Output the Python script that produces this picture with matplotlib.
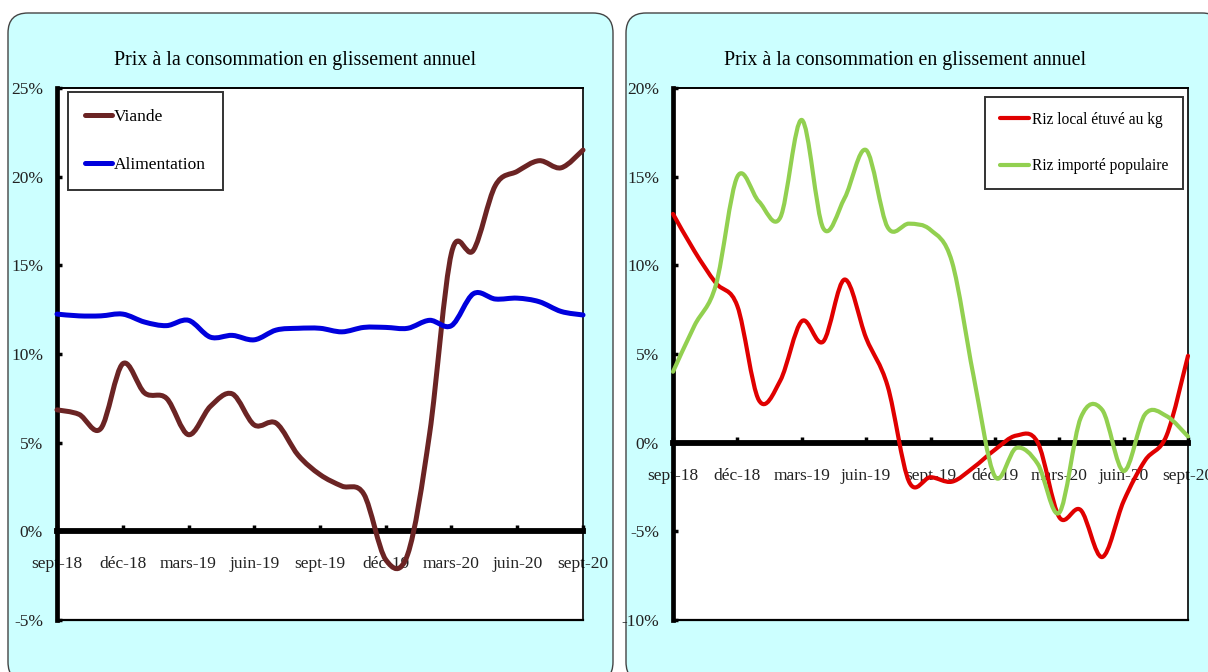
import matplotlib
matplotlib.use("Agg")
import matplotlib.pyplot as plt
from matplotlib.path import Path
from matplotlib.patches import PathPatch, FancyBboxPatch
from matplotlib.lines import Line2D

# ---------------- data ----------------
month_labels = ["sept-18", "oct-18", "nov-18", "déc-18", "janv-19", "févr-19", "mars-19",
                "avr-19", "mai-19", "juin-19", "juil-19", "août-19", "sept-19", "oct-19",
                "nov-19", "déc-19", "janv-20", "févr-20", "mars-20", "avr-20", "mai-20",
                "juin-20", "juil-20", "août-20", "sept-20"]
tick_labels = ["sept-18", "déc-18", "mars-19", "juin-19", "sept-19", "déc-19",
               "mars-20", "juin-20", "sept-20"]

viande = [6.85, 6.6, 5.8, 9.45, 7.8, 7.5, 5.45, 7.05, 7.75, 6.0, 6.1, 4.3, 3.2,
          2.55, 2.1, -1.6, -1.3, 5.5, 15.7, 15.85, 19.5, 20.3, 20.9, 20.5, 21.5]
alimentation = [12.25, 12.15, 12.15, 12.25, 11.8, 11.6, 11.9, 10.95, 11.05, 10.8, 11.35,
                11.45, 11.45, 11.25, 11.5, 11.5, 11.45, 11.9, 11.6, 13.4, 13.1, 13.15,
                12.95, 12.4, 12.2]
riz_local = [12.9, 10.8, 9.0, 7.7, 2.4, 3.5, 6.85, 5.7, 9.2, 5.9, 3.2, -2.2, -1.95,
             -2.2, -1.4, -0.4, 0.4, 0.0, -4.2, -3.8, -6.45, -3.3, -1.0, 0.4, 4.9]
riz_importe = [4.0, 6.6, 8.9, 15.0, 13.6, 12.7, 18.2, 12.1, 13.8, 16.5, 12.15, 12.35,
               12.0, 10.2, 3.8, -1.9, -0.3, -1.2, -3.95, 1.4, 1.85, -1.6, 1.6, 1.5, 0.35]

title_text = "Prix à la consommation en glissement annuel"

# ---------------- helpers ----------------
FONT = "Liberation Serif"
plt.rcParams["font.family"] = [FONT, "DejaVu Serif"]


def smooth_path(xs, ys):
    """Excel-like smoothed line as cubic Bezier path through the points."""
    n = len(xs)
    verts = [(xs[0], ys[0])]
    codes = [Path.MOVETO]
    for i in range(n - 1):
        a = i - 1 if i > 0 else i
        d = i + 2 if i + 2 < n else i + 1
        c1 = (xs[i] + (xs[i + 1] - xs[a]) / 6.0, ys[i] + (ys[i + 1] - ys[a]) / 6.0)
        c2 = (xs[i + 1] - (xs[d] - xs[i]) / 6.0, ys[i + 1] - (ys[d] - ys[i]) / 6.0)
        verts += [c1, c2, (xs[i + 1], ys[i + 1])]
        codes += [Path.CURVE4] * 3
    return Path(verts, codes)


W, H = 1208, 672
fig = plt.figure(figsize=(W / 100, H / 100), dpi=100)
fig.patch.set_facecolor("white")

# panel backgrounds (in inches)
for x0, x1 in [(8, 613), (626, 1222)]:
    box = FancyBboxPatch((x0 / 100, -0.1), (x1 - x0) / 100, (H + 10 - 13) / 100,
                         boxstyle="round,pad=0,rounding_size=0.2",
                         transform=fig.dpi_scale_trans, facecolor="#CCFFFF",
                         edgecolor="#444444", linewidth=1.0, zorder=-10)
    fig.add_artist(box)


def make_axes(px_left, px_right, ylim, yticks):
    ax = fig.add_axes([px_left / W, (H - 620) / H, (px_right - px_left) / W, 532 / H])
    ax.set_zorder(1)
    ax.set_facecolor("white")
    ax.set_xlim(0, len(month_labels) - 1)
    ax.set_ylim(*ylim)
    ax.spines["left"].set_linewidth(3.4)
    ax.spines["top"].set_linewidth(1.4)
    ax.spines["right"].set_linewidth(1.2)
    ax.spines["bottom"].set_position(("data", 0))
    ax.spines["bottom"].set_linewidth(4.2)
    ax.spines["bottom"].set_zorder(1)
    ax.axhline(ylim[0], color="black", lw=1.6, clip_on=False, zorder=1)
    ax.set_xticks(range(0, len(month_labels), 3))
    ax.set_xticklabels(tick_labels)
    ax.set_yticks(yticks)
    ax.set_yticklabels([f"{v}%" for v in yticks])
    ax.tick_params(axis="x", direction="in", length=4, width=2.5, pad=18,
                   labelsize=12.5, colors="black")
    ax.tick_params(axis="y", direction="in", length=3.5, width=2.5, pad=10,
                   labelsize=12.5, colors="black")
    for lab in ax.get_xticklabels() + ax.get_yticklabels():
        lab.set_color("#222222")
    return ax


def draw_series(ax, ys, color, lw):
    xs = list(range(len(ys)))
    ax.add_patch(PathPatch(smooth_path(xs, ys), facecolor="none", edgecolor=color,
                           lw=lw, capstyle="round", joinstyle="round", zorder=3,
                           clip_on=False))


# ---------------- left chart ----------------
axL = make_axes(57, 583, (-5, 25), [-5, 0, 5, 10, 15, 20, 25])
c_viande, c_alim = "#6B2424", "#0000DD"
draw_series(axL, viande, c_viande, 3.6)
draw_series(axL, alimentation, c_alim, 3.6)
hL = [Line2D([], [], color=c_viande, lw=3.6, solid_capstyle="round"),
      Line2D([], [], color=c_alim, lw=3.6, solid_capstyle="round")]
legL = axL.legend(hL, ["Viande", "Alimentation"], loc="upper left",
                  bbox_to_anchor=(0.021, 0.992), borderaxespad=0, fontsize=12.5,
                  frameon=True, fancybox=False, edgecolor="black", handlelength=1.6,
                  handletextpad=0.1, labelspacing=1.85, borderpad=0.95)
legL.get_frame().set_linewidth(1.4)
fig.text(295 / W, 1 - 60 / H, title_text, ha="center", va="center", fontsize=14.4)

# ---------------- right chart ----------------
axR = make_axes(673, 1188, (-10, 20), [-10, -5, 0, 5, 10, 15, 20])
c_local, c_import = "#E00000", "#92D050"
draw_series(axR, riz_local, c_local, 3.0)
draw_series(axR, riz_importe, c_import, 3.0)
hR = [Line2D([], [], color=c_local, lw=3.0, solid_capstyle="round"),
      Line2D([], [], color=c_import, lw=3.0, solid_capstyle="round")]
legR = axR.legend(hR, ["Riz local étuvé au kg", "Riz importé populaire"], loc="upper right",
                  bbox_to_anchor=(0.990, 0.983), borderaxespad=0, fontsize=11.2,
                  frameon=True, fancybox=False, edgecolor="black", handlelength=1.9,
                  handletextpad=0.15, labelspacing=1.95, borderpad=0.95)
legR.get_frame().set_linewidth(1.4)
fig.text(905 / W, 1 - 60 / H, title_text, ha="center", va="center", fontsize=14.4)

fig.savefig("out.png", dpi=100, facecolor="white")
